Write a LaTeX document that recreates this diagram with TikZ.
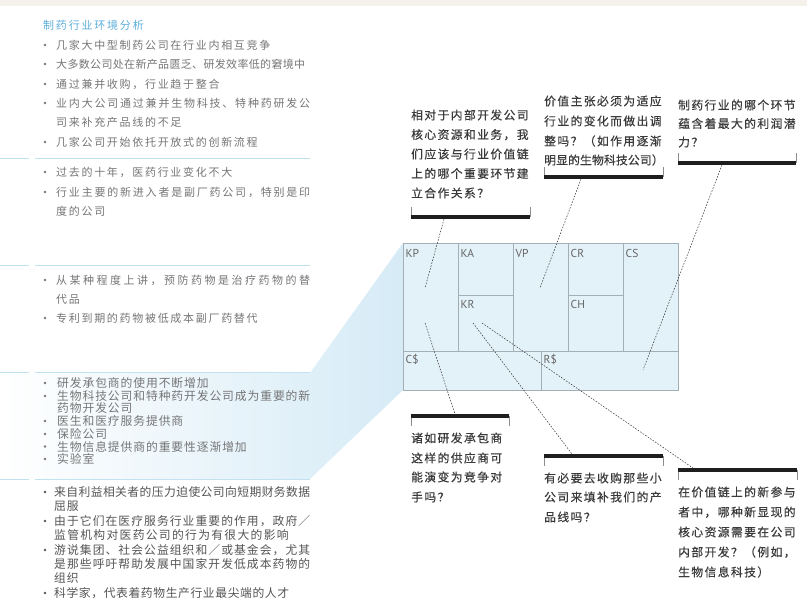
\documentclass[tikz,border=0pt]{standalone}
\usepackage{fontspec}
\setmainfont{Noto Sans CJK SC}
\newfontfamily\qfont[FakeBold=0.35]{Noto Sans CJK SC}
\newfontfamily\labfont{PT Sans}
\makeatletter
\def\sp@gap{}
\newcommand\spc[2][1.7pt]{\def\sp@gap{\hskip #1\relax}\sp@first#2\@nil}
\newcommand\J[2]{\makebox[#1][s]{\def\sp@gap{\hskip 0pt plus 1fil\relax}\sp@first#2\@nil}}
\def\sp@first#1{#1\sp@loop}
\def\sp@loop#1{\ifx\@nil#1\else\sp@gap#1\expandafter\sp@loop\fi}
\makeatother
\definecolor{band}{HTML}{F5F2EB}
\definecolor{titleblue}{HTML}{5BAEDB}
\definecolor{sepblue}{HTML}{C2E1F1}
\definecolor{txtA}{HTML}{767676}
\definecolor{txtB}{HTML}{555555}
\definecolor{qtxt}{HTML}{3A3A3A}
\definecolor{cellfill}{HTML}{E3F1F8}
\definecolor{cellline}{HTML}{A3AFB4}
\definecolor{funnel}{HTML}{D6EBF6}
\definecolor{labgray}{HTML}{666666}
\definecolor{barblack}{HTML}{1E1E1E}
\begin{document}
\begin{tikzpicture}[x=1pt,y=-1pt,
  s1/.style={anchor=west, inner sep=0pt, font=\fontsize{11}{12}\selectfont, text=txtA, text height=9.7pt, text depth=1.3pt},
  s4/.style={anchor=west, inner sep=0pt, font=\fontsize{11.8}{13}\selectfont, text=txtA, text height=10.4pt, text depth=1.4pt},
  s5/.style={s4, text=txtB},
  q/.style={anchor=west, inner sep=0pt, font=\qfont\fontsize{11.8}{13}\selectfont, text=qtxt, text height=10.4pt, text depth=1.4pt},
  lab/.style={anchor=west, inner sep=0pt, font=\labfont\fontsize{11.5}{13}\selectfont, text=labgray, text height=8.3pt, text depth=0pt},
  cell/.style={draw=cellline, fill=cellfill, line width=0.8pt, inner sep=0pt, anchor=north west},
  sep/.style={draw=sepblue, line width=1pt},
  bulA/.style={fill=txtA},
  bulB/.style={fill=txtB},
  bar/.style={draw=barblack, line width=3.6pt},
  tick/.style={draw=black!45, line width=0.6pt},
  dashline/.style={draw=black!80, line width=0.5pt, dash pattern=on 1.6pt off 1.4pt}
]
\useasboundingbox (0,0) rectangle (807,604);
\fill[white] (0,0) rectangle (807,604);
\fill[band] (0,0) rectangle (807,6);

% funnel
\shade[left color=white, right color=funnel] (0,373) -- (310,373) -- (403,243) -- (403,390) -- (310,479) -- (0,479) -- cycle;

% separators
\foreach \yy in {159,266,373,479} {
  \draw[sep] (0,\yy) -- (29,\yy);
  \draw[sep] (35,\yy) -- (310,\yy);
}

% section 1
\node[s1, text=titleblue] (title) at (43,25) {\spc[1.8pt]{制药行业环境分析}};
\node[s1] (a1) at (56,45) {\spc{几家大中型制药公司在行业内相互竞争}};
\node[s1] (a2) at (56,64) {\J{249pt}{大多数公司处在新产品匮乏、研发效率低的窘境中}};
\node[s1] (a3) at (56,84) {\spc{通过兼并收购，行业趋于整合}};
\node[s1] (a4) at (56,103) {\J{254pt}{业内大公司通过兼并生物科技、特种药研发公}};
\node[s1] (a5) at (56,122.5) {\spc{司来补充产品线的不足}};
\node[s1] (a6) at (56,142) {\spc{几家公司开始依托开放式的创新流程}};
\foreach \yy in {45,64,84,103,142} \fill[bulA] (45,\yy) circle[radius=1.3pt];

% section 2
\node[s1] (b1) at (56,172) {\spc{过去的十年，医药行业变化不大}};
\node[s1] (b2) at (56,192) {\J{254pt}{行业主要的新进入者是副厂药公司，特别是印}};
\node[s1] (b3) at (56,211) {\spc{度的公司}};
\foreach \yy in {172,192} \fill[bulA] (45,\yy) circle[radius=1.3pt];

% section 3
\node[s1] (c1) at (56,280) {\J{254pt}{从某种程度上讲，预防药物是治疗药物的替}};
\node[s1] (c2) at (56,299) {\spc{代品}};
\node[s1] (c3) at (56,318) {\spc{专利到期的药物被低成本副厂药替代}};
\foreach \yy in {280,318} \fill[bulA] (45,\yy) circle[radius=1.3pt];

% section 4
\node[s4] (d1) at (57,383) {\spc[0.9pt]{研发承包商的使用不断增加}};
\node[s4] (d2) at (57,396) {\J{253pt}{生物科技公司和特种药开发公司成为重要的新}};
\node[s4] (d3) at (57,408.5) {\spc[0.9pt]{药物开发公司}};
\node[s4] (d4) at (57,421) {\spc[0.9pt]{医生和医疗服务提供商}};
\node[s4] (d5) at (57,434) {\spc[0.9pt]{保险公司}};
\node[s4] (d6) at (57,446.5) {\spc[0.9pt]{生物信息提供商的重要性逐渐增加}};
\node[s4] (d7) at (57,459) {\spc[0.9pt]{实验室}};
\foreach \yy in {383,396,421,434,446.5,459} \fill[bulA] (45,\yy) circle[radius=1.3pt];

% section 5
\node[s5] (e1) at (54,492) {\J{256pt}{来自利益相关者的压力迫使公司向短期财务数据}};
\node[s5] (e2) at (54,506) {\spc[0.9pt]{屈服}};
\node[s5] (e3) at (54,521) {\J{256pt}{由于它们在医疗服务行业重要的作用，政府／}};
\node[s5] (e4) at (54,535) {\spc[1.3pt]{监管机构对医药公司的行为有很大的影响}};
\node[s5] (e5) at (54,550) {\J{256pt}{游说集团、社会公益组织和／或基金会，尤其}};
\node[s5] (e6) at (54,564) {\J{256pt}{是那些呼吁帮助发展中国家开发低成本药物的}};
\node[s5] (e7) at (54,578) {\spc[0.9pt]{组织}};
\node[s5] (e8) at (54,593) {\spc[0.6pt]{科学家，代表着药物生产行业最尖端的人才}};
\foreach \yy in {492,521,550,593} \fill[bulB] (45,\yy) circle[radius=1.3pt];

% canvas
\node[cell, minimum width=55pt, minimum height=108pt] (kp) at (403,243) {};
\node[cell, minimum width=55pt, minimum height=52pt] (ka) at (458,243) {};
\node[cell, minimum width=55pt, minimum height=56pt] (kr) at (458,295) {};
\node[cell, minimum width=55pt, minimum height=108pt] (vp) at (513,243) {};
\node[cell, minimum width=55pt, minimum height=52pt] (cr) at (568,243) {};
\node[cell, minimum width=55pt, minimum height=56pt] (ch) at (568,295) {};
\node[cell, minimum width=55pt, minimum height=108pt] (cs) at (623,243) {};
\node[cell, minimum width=138pt, minimum height=39pt] (cc) at (403,351) {};
\node[cell, minimum width=137pt, minimum height=39pt] (rr) at (541,351) {};
\node[lab] (kpl) at (405.5,253) {KP};
\node[lab] (kal) at (460.5,253) {KA};
\node[lab] (vpl) at (515.5,253) {VP};
\node[lab] (crl) at (570.5,253) {CR};
\node[lab] (csl) at (625.5,253) {CS};
\node[lab] (krl) at (460.5,304) {KR};
\node[lab] (chl) at (570.5,304) {CH};
\node[lab] (ccl) at (405.5,359) {C\$};
\node[lab] (rrl) at (543.5,359) {R\$};

% question box 1
\coordinate (b1l) at (411,217); \coordinate (b1r) at (530,217);
\draw[tick] (b1l) -- ++(0,-10); \draw[tick] (b1r) -- ++(0,-10);
\draw[bar] (b1l) -- (b1r);
\node[q] (q1a) at (411,115) {\spc[1.4pt]{相对于内部开发公司}};
\node[q] (q1b) at (411,134.5) {\spc[1.4pt]{核心资源和业务，我}};
\node[q] (q1c) at (411,154) {\spc[1.4pt]{们应该与行业价值链}};
\node[q] (q1d) at (411,173.5) {\spc[1.4pt]{上的哪个重要环节建}};
\node[q] (q1e) at (411,193) {\spc[1.4pt]{立合作关系？}};

% question box 2
\coordinate (b2l) at (544,177); \coordinate (b2r) at (663,177);
\draw[tick] (b2l) -- ++(0,-10); \draw[tick] (b2r) -- ++(0,-10);
\draw[bar] (b2l) -- (b2r);
\node[q] (q2a) at (544,101) {\spc[1.4pt]{价值主张必须为适应}};
\node[q] (q2b) at (544,121) {\spc[1.4pt]{行业的变化而做出调}};
\node[q] (q2c) at (544,141) {\spc[1.4pt]{整吗？（如作用逐渐}};
\node[q] (q2d) at (544,160) {\J{119.5pt}{明显的生物科技公司）}};

% question box 3
\coordinate (b3l) at (678,163); \coordinate (b3r) at (796,163);
\draw[tick] (b3l) -- ++(0,-10); \draw[tick] (b3r) -- ++(0,-10);
\draw[bar] (b3l) -- (b3r);
\node[q] (q3a) at (678,105) {\spc[1.4pt]{制药行业的哪个环节}};
\node[q] (q3b) at (678,123.5) {\spc[1.4pt]{蕴含着最大的利润潜}};
\node[q] (q3c) at (678,142) {\spc[1.4pt]{力？}};

% question box 4
\coordinate (b4l) at (411,416); \coordinate (b4r) at (509,416);
\draw[tick] (b4l) -- ++(0,10); \draw[tick] (b4r) -- ++(0,10);
\draw[bar] (b4l) -- (b4r);
\node[q] (q4a) at (411,438) {\spc[1.4pt]{诸如研发承包商}};
\node[q] (q4b) at (411,458) {\spc[1.4pt]{这样的供应商可}};
\node[q] (q4c) at (411,477) {\spc[1.4pt]{能演变为竞争对}};
\node[q] (q4d) at (411,497) {\spc[1.4pt]{手吗？}};

% question box 5
\coordinate (b5l) at (544,456); \coordinate (b5r) at (663,456);
\draw[tick] (b5l) -- ++(0,10); \draw[tick] (b5r) -- ++(0,10);
\draw[bar] (b5l) -- (b5r);
\node[q] (q5a) at (544,478) {\spc[1.4pt]{有必要去收购那些小}};
\node[q] (q5b) at (544,497) {\spc[1.4pt]{公司来填补我们的产}};
\node[q] (q5c) at (544,517) {\spc[1.4pt]{品线吗？}};

% question box 6
\coordinate (b6l) at (678,470); \coordinate (b6r) at (797,470);
\draw[tick] (b6l) -- ++(0,10); \draw[tick] (b6r) -- ++(0,10);
\draw[bar] (b6l) -- (b6r);
\node[q] (q6a) at (678,492) {\spc[1.4pt]{在价值链上的新参与}};
\node[q] (q6b) at (678,512) {\spc[1.4pt]{者中，哪种新显现的}};
\node[q] (q6c) at (678,532) {\spc[1.4pt]{核心资源需要在公司}};
\node[q] (q6d) at (678,552) {\spc[1.4pt]{内部开发？（例如，}};
\node[q] (q6e) at (678,572) {\spc[1.4pt]{生物信息科技）}};

% connectors
\coordinate (c1s) at (444,219); \coordinate (c1e) at (425,288);
\coordinate (c2s) at (581,179); \coordinate (c2e) at (540,288);
\coordinate (c3s) at (722,165); \coordinate (c3e) at (643,370);
\coordinate (c4s) at (425,323); \coordinate (c4e) at (455,414);
\coordinate (c5s) at (473,323); \coordinate (c5e) at (572,454);
\coordinate (c6s) at (482,323); \coordinate (c6e) at (693,468);
\draw[dashline] (c1s) -- (c1e);
\draw[dashline] (c2s) -- (c2e);
\draw[dashline] (c3s) -- (c3e);
\draw[dashline] (c4s) -- (c4e);
\draw[dashline] (c5s) -- (c5e);
\draw[dashline] (c6s) -- (c6e);
\end{tikzpicture}
\end{document}
